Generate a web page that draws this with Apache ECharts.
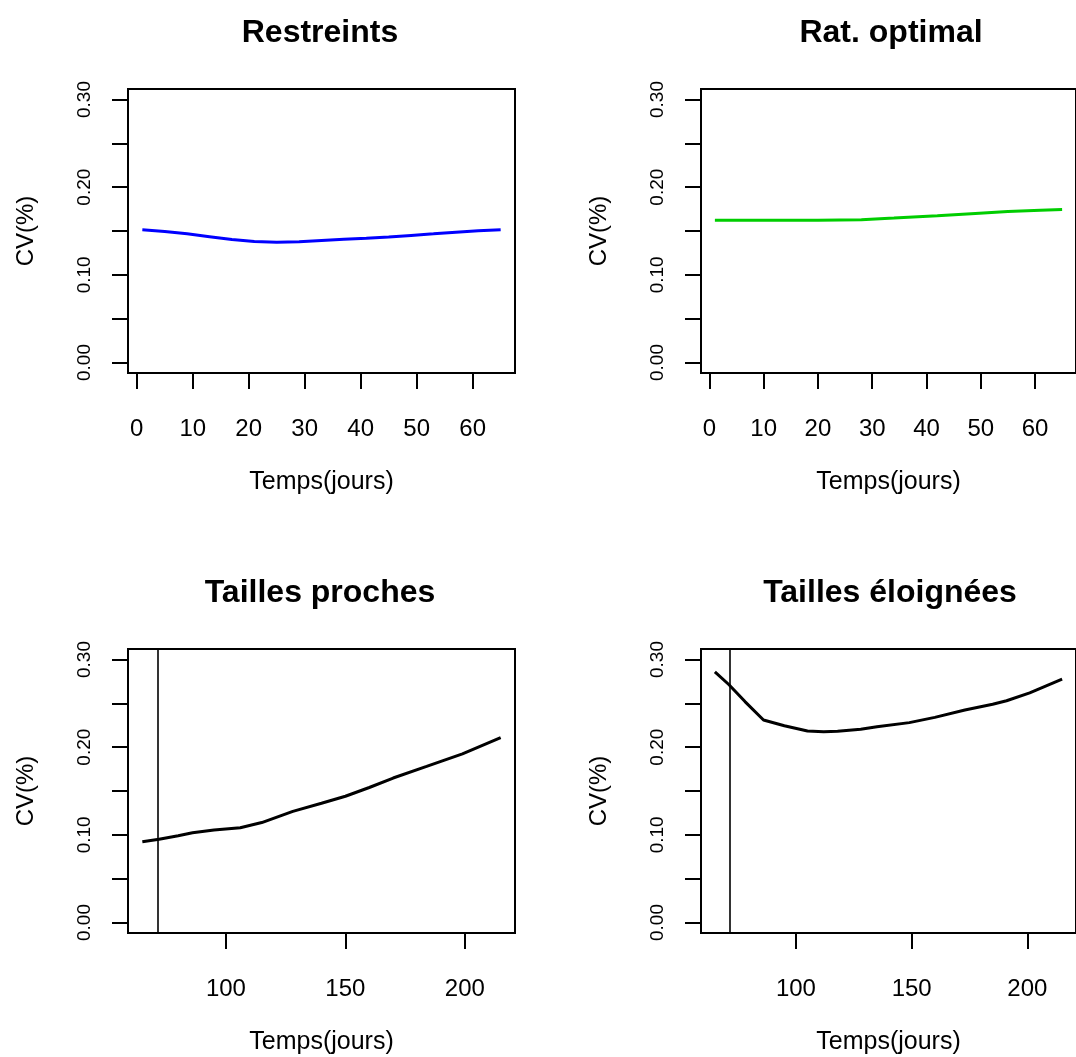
<!DOCTYPE html>
<html>
<head>
<meta charset="utf-8">
<script src="https://cdn.jsdelivr.net/npm/echarts@6/dist/echarts.min.js"></script>
<style>
html,body{margin:0;padding:0;background:#fff;}
#c{width:1076px;height:1057px;}
</style>
</head>
<body>
<div id="c"></div>
<script>
// ---- data ----
const titles = ['Restreints', 'Rat. optimal', 'Tailles proches', 'Tailles éloignées'];
const yName = 'CV(%)';
const xName = 'Temps(jours)';
const yTicks = [0, 0.05, 0.10, 0.15, 0.20, 0.25, 0.30];
const yLabels = [0, 0.10, 0.20, 0.30];
const xTicksTop = [0, 10, 20, 30, 40, 50, 60];
const xTicksBottom = [100, 150, 200];

const restreintsX = [1, 5, 9, 13, 17, 21, 25, 29, 33, 37, 41, 45, 49, 53, 57, 61, 65];
const restreintsY = [0.1515, 0.1495, 0.1468, 0.1435, 0.1402, 0.1380, 0.1373, 0.1378, 0.1392, 0.1405, 0.1417, 0.1432, 0.1450, 0.1468, 0.1487, 0.1503, 0.1515];

const optimalX = [1, 10, 20, 28, 34, 42, 49, 55, 61, 65];
const optimalY = [0.1622, 0.1623, 0.1624, 0.1628, 0.1648, 0.1675, 0.1701, 0.1722, 0.1738, 0.1746];

const prochesX = [65, 72, 80, 86, 95, 106, 115, 128, 140, 150, 160, 170, 184, 199, 215];
const prochesY = [0.092, 0.095, 0.099, 0.1023, 0.1055, 0.108, 0.114, 0.1268, 0.136, 0.144, 0.154, 0.1648, 0.178, 0.1924, 0.211];

const eloigneesX = [65, 71, 78, 86, 95, 105, 112, 118, 128, 135, 149, 160, 173, 185, 191, 201, 215];
const eloigneesY = [0.286, 0.2715, 0.252, 0.231, 0.2245, 0.2185, 0.2177, 0.2182, 0.2205, 0.2232, 0.228, 0.234, 0.2424, 0.249, 0.253, 0.262, 0.2775];

const vlineX = 71.5;

// ---- layout ----
const FONT = '"Liberation Sans", Arial, sans-serif';
const zip = (xs, ys) => xs.map((x, i) => [x, ys[i]]);

const grids = [
  { left: 128, top: 89 },
  { left: 701, top: 89 },
  { left: 128, top: 649 },
  { left: 701, top: 649 }
].map(g => ({
  left: g.left, top: g.top, width: 387, height: 284,
  show: true, borderColor: '#000', borderWidth: 2, backgroundColor: 'rgba(0,0,0,0)'
}));

const xRanges = [
  [-1.56, 67.56, xTicksTop], [-1.56, 67.56, xTicksTop],
  [59, 221, xTicksBottom], [59, 221, xTicksBottom]
];

const xAxes = xRanges.map((r, i) => ({
  gridIndex: i, type: 'value', min: r[0], max: r[1], position: 'bottom',
  axisLine: { show: false, onZero: false },
  splitLine: { show: false },
  axisTick: { show: true, length: 16, lineStyle: { color: '#000', width: 2 }, customValues: r[2] },
  axisLabel: { customValues: r[2], margin: 44, fontSize: 24, color: '#000', fontFamily: FONT },
  name: xName, nameLocation: 'middle', nameGap: 97,
  nameTextStyle: { fontSize: 25, color: '#000', fontFamily: FONT }
}));

const yAxes = [0, 1, 2, 3].map(i => ({
  gridIndex: i, type: 'value', min: -0.012, max: 0.312, position: 'left',
  axisLine: { show: false, onZero: false },
  splitLine: { show: false },
  axisTick: { show: true, length: 16, lineStyle: { color: '#000', width: 2 }, customValues: yTicks },
  axisLabel: { customValues: yLabels, rotate: 90, margin: 34, fontSize: 19, color: '#000', fontFamily: FONT,
    formatter: v => Number(v).toFixed(2) },
  name: yName, nameLocation: 'middle', nameGap: 90,
  nameTextStyle: { fontSize: 24, color: '#000', fontFamily: FONT }
}));

const centers = [315, 886, 315, 885];
const tops = [12, 12, 572, 572];
const titleOpts = titles.map((t, i) => ({
  text: t, left: centers[i], top: tops[i], textAlign: 'center',
  textStyle: { fontSize: 32, fontWeight: 'bold', color: '#000', fontFamily: FONT }
}));

const vline = {
  silent: true, symbol: ['none', 'none'], label: { show: false },
  lineStyle: { color: '#000', width: 1.6, type: 'solid' },
  emphasis: { disabled: true },
  data: [{ xAxis: vlineX }]
};

const mk = (i, xs, ys, color, ml) => {
  const s = {
    type: 'line', xAxisIndex: i, yAxisIndex: i, data: zip(xs, ys),
    symbol: 'none', showSymbol: false, smooth: false,
    lineStyle: { color: color, width: 3 }, itemStyle: { color: color }
  };
  if (ml) s.markLine = ml;
  return s;
};

const chart = echarts.init(document.getElementById('c'), null, { renderer: 'canvas' });
chart.setOption({
  animation: false,
  backgroundColor: '#fff',
  title: titleOpts,
  grid: grids,
  xAxis: xAxes,
  yAxis: yAxes,
  series: [
    mk(0, restreintsX, restreintsY, '#0000FF'),
    mk(1, optimalX, optimalY, '#00CD00'),
    mk(2, prochesX, prochesY, '#000000', vline),
    mk(3, eloigneesX, eloigneesY, '#000000', vline)
  ]
});
</script>
</body>
</html>
